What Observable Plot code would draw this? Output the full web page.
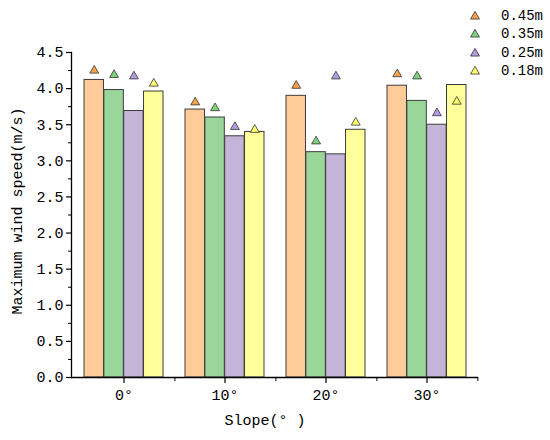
<!DOCTYPE html>
<html>
<head>
<meta charset="utf-8">
<script src="https://cdn.jsdelivr.net/npm/d3@7"></script>
<script src="https://cdn.jsdelivr.net/npm/@observablehq/plot@0.6"></script>
<style>
  html, body { margin: 0; padding: 0; background: #fff; }
  #wrap { position: relative; width: 550px; height: 440px; font-family: "Liberation Mono", "DejaVu Sans Mono", monospace; }
  #legend { position: absolute; left: 470px; top: 7px; font-size: 14px; color: #000; }
  #legend .row { display: flex; align-items: center; height: 18.3px; }
  #legend svg { margin-right: 21px; }
</style>
</head>
<body>
<div id="wrap"><div id="legend"></div></div>
<script>
// ---- data ----
const slopes = ["0°", "10°", "20°", "30°"];
const series = ["0.45m", "0.35m", "0.25m", "0.18m"];
const bar045 = [4.12, 3.71, 3.90, 4.04];
const bar035 = [3.98, 3.60, 3.12, 3.83];
const bar025 = [3.69, 3.34, 3.09, 3.50];
const bar018 = [3.96, 3.40, 3.43, 4.05];
const tri045 = [4.25, 3.81, 4.04, 4.20];
const tri035 = [4.19, 3.73, 3.27, 4.17];
const tri025 = [4.17, 3.47, 4.17, 3.66];
const tri018 = [4.07, 3.43, 3.53, 3.82];
const yTicks = [0, 0.5, 1, 1.5, 2, 2.5, 3, 3.5, 4, 4.5];
const yMinorTicks = [0.25, 0.75, 1.25, 1.75, 2.25, 2.75, 3.25, 3.75, 4.25];
const barColors = ["#FFCC99", "#9AD69A", "#C4B4D7", "#FFFF9C"];
const triColors = ["#F5A24E", "#7ED27E", "#B39BE0", "#FFFF6A"];
const yLabel = "Maximum wind speed(m/s)";
const xLabel = "Slope(° )";

// ---- layout ----
const W = 550, H = 440, ML = 71, MR = 72, MT = 52, MB = 63;
const pIn = 0.22, pOut = 0.11;
const step = (W - ML - MR) / (slopes.length - pIn + 2 * pOut);
const sub = step * (1 - pIn) / series.length;

const bars = [bar045, bar035, bar025, bar018];
const tris = [tri045, tri035, tri025, tri018];
const data = slopes.flatMap((s, j) => series.map((k, i) => ({slope: s, series: k, i, bar: bars[i][j], tri: tris[i][j]})));

const marks = [];
series.forEach((k, i) => {
  marks.push(Plot.barY(data.filter(d => d.i === i), {
    x: "slope", y: "bar", fill: barColors[i], stroke: "#3c3c3c", strokeWidth: 1,
    insetLeft: i * sub, insetRight: (series.length - 1 - i) * sub
  }));
});
series.forEach((k, i) => {
  marks.push(Plot.dot(data.filter(d => d.i === i), {
    x: "slope", y: "tri", dx: (i - 1.5) * sub, symbol: "triangle", r: 3.3,
    fill: triColors[i], stroke: "#333", strokeWidth: 0.8
  }));
});
marks.push(
  Plot.ruleY([0], {stroke: "#000", strokeWidth: 1.3}),
  Plot.frame({anchor: "left", stroke: "#000", strokeWidth: 1.3}),
  Plot.axisY({ticks: yTicks, tickSize: 5, tickPadding: 3, tickFormat: d => d.toFixed(1), label: null, strokeWidth: 1.2}),
  Plot.axisY({ticks: yMinorTicks, tickSize: 3, tickFormat: () => "", label: null}),
  Plot.axisX({ticks: slopes, tickSize: 6, tickPadding: 6, label: null, strokeWidth: 1.2}),
  Plot.axisX({ticks: slopes, tickSize: 4, dx: step / 2, tickFormat: () => "", label: null}),
  Plot.text([yLabel], {frameAnchor: "left", textAnchor: "middle", rotate: -90, dx: -54, dy: -4, fontSize: 15}),
  Plot.text([xLabel], {frameAnchor: "bottom", textAnchor: "middle", dy: 47, dx: -10, fontSize: 15})
);

const chart = Plot.plot({
  width: W, height: H,
  marginLeft: ML, marginRight: MR, marginTop: MT, marginBottom: MB,
  style: {fontFamily: "Liberation Mono, DejaVu Sans Mono, monospace", fontSize: "15px", color: "#000", background: "#fff"},
  x: {type: "band", domain: slopes, paddingInner: pIn, paddingOuter: pOut},
  y: {domain: [0, 4.5]},
  marks
});
document.getElementById("wrap").prepend(chart);

// ---- legend ----
const legend = d3.select("#legend");
series.forEach((k, i) => {
  const row = legend.append("div").attr("class", "row");
  const s = row.append("svg").attr("width", 10).attr("height", 10);
  s.append("path").attr("transform", "translate(5,5.5)")
    .attr("d", d3.symbol(d3.symbolTriangle, Math.PI * 3.3 * 3.3)())
    .attr("fill", triColors[i]).attr("stroke", "#333").attr("stroke-width", 0.8);
  row.append("span").text(k);
});
</script>
</body>
</html>
